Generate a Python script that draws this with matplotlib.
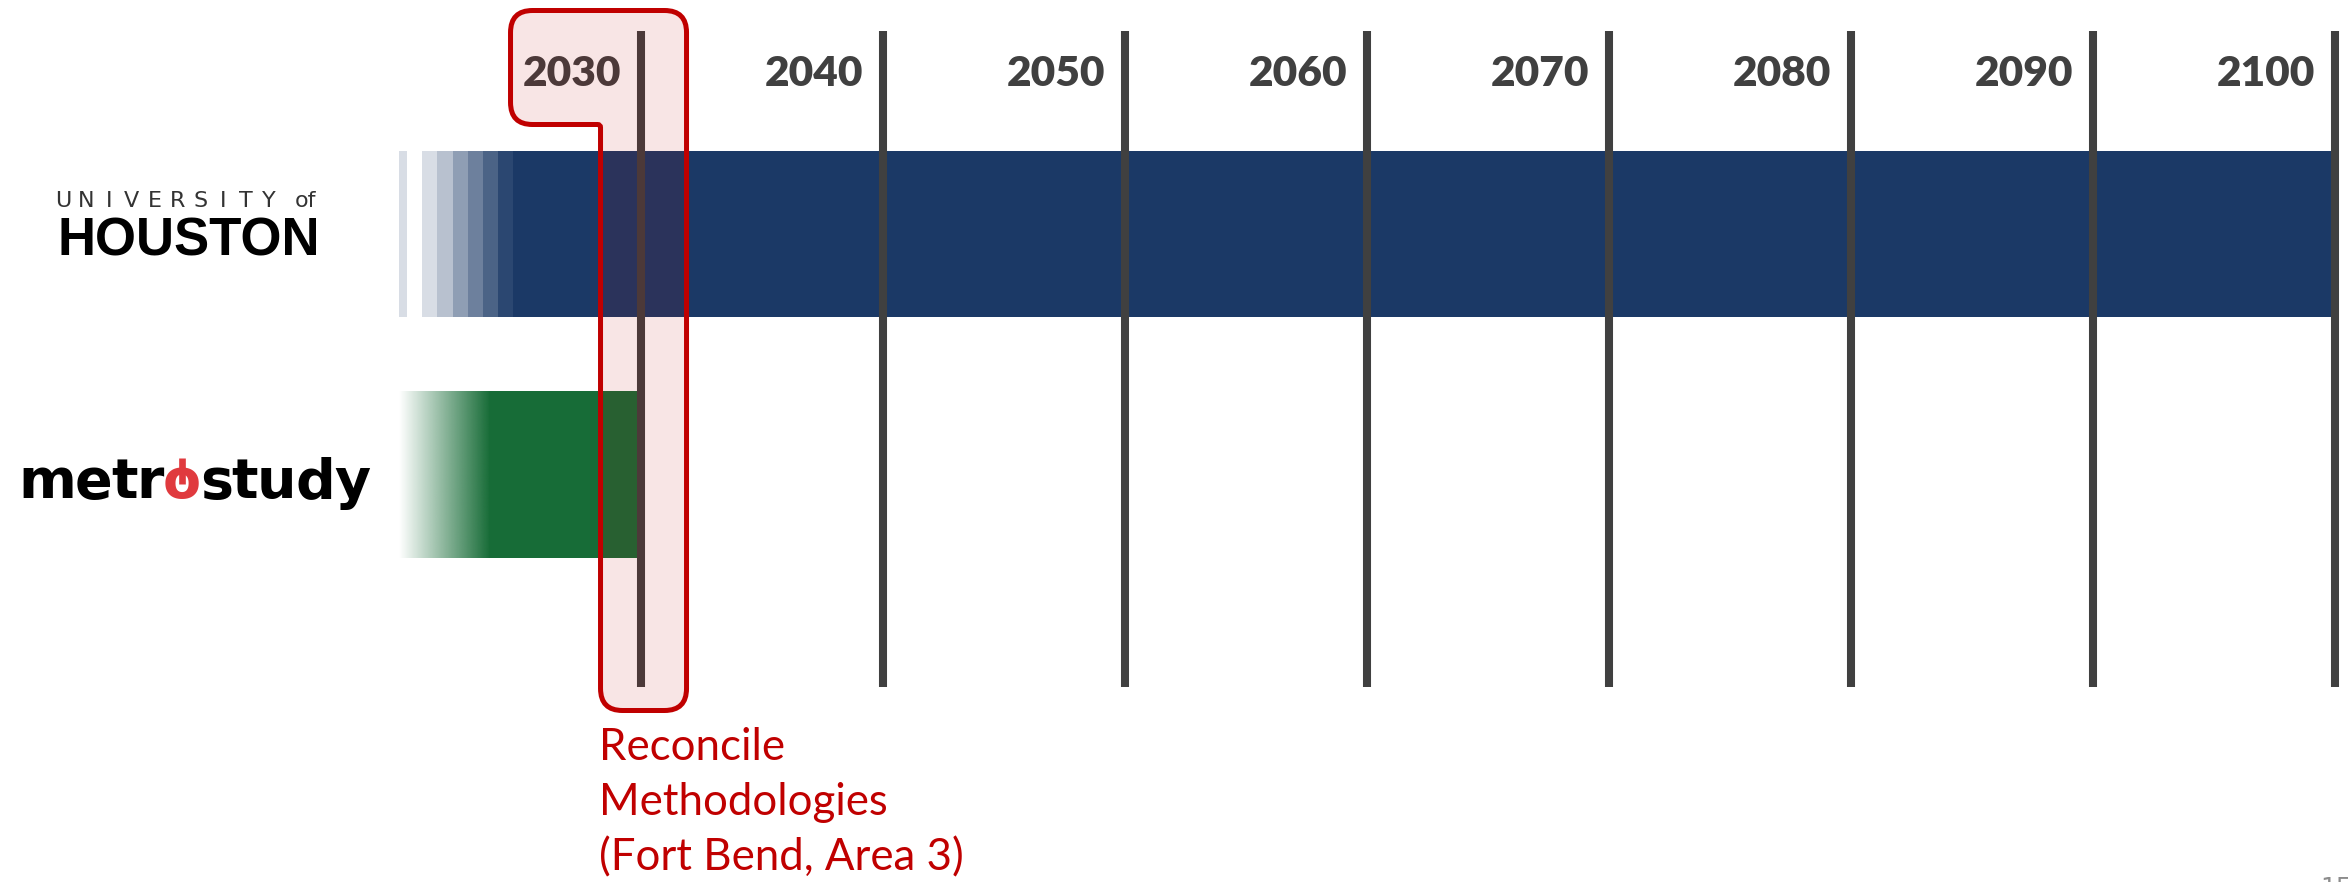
import numpy as np
import matplotlib
matplotlib.use("Agg")
import matplotlib.pyplot as plt
from matplotlib.path import Path
from matplotlib.patches import PathPatch
from matplotlib.lines import Line2D
from matplotlib.transforms import IdentityTransform, offset_copy
from matplotlib.colors import to_rgb

# timeline data
YEARS = [2030, 2040, 2050, 2060, 2070, 2080, 2090, 2100]
SOURCES = ["University of Houston", "metrostudy"]
BAR_START = [2020.0, 2020.0]       # where each horizon starts fading in
BAR_SOLID = [2024.71, 2023.7]      # where the bar becomes fully opaque
BAR_END = [2100, 2030]
UH_STRIP = [2020.0, 2020.33]
UH_STEPS = [2020.95, 2021.57, 2022.23, 2022.85, 2023.47, 2024.09, 2024.71]
RECONCILE_YEAR = 2030
RECONCILE_LINES = ["Reconcile", "Methodologies", "(Fort Bend, Area 3)"]

COLORS = {
    "navy": "#1b3966",
    "green": "#176c37",
    "grid": "#404040",
    "red": "#c00000",
    "logo_red": "#e03a3e",
}
STEP_ALPHAS = [0.17, 0.31, 0.49, 0.64, 0.79, 0.93]

W, H, DPI = 2348, 882, 100
fig = plt.figure(figsize=(W / DPI, H / DPI), dpi=DPI, facecolor="white")
ax = fig.add_axes([0, 0, 1, 1])
ax.set_axis_off()

bar_h = 0.692
rows = np.arange(len(SOURCES))

# University of Houston bar: solid part + stepped fade
ax.barh(rows[0], BAR_END[0] - BAR_SOLID[0], left=BAR_SOLID[0], height=bar_h,
        color=COLORS["navy"], linewidth=0, zorder=2)
for i, a in enumerate(STEP_ALPHAS):
    ax.barh(rows[0], UH_STEPS[i + 1] - UH_STEPS[i], left=UH_STEPS[i], height=bar_h,
            color=COLORS["navy"], alpha=a, linewidth=0, zorder=2)
ax.barh(rows[0], UH_STRIP[1] - UH_STRIP[0], left=UH_STRIP[0], height=bar_h,
        color=COLORS["navy"], alpha=STEP_ALPHAS[0], linewidth=0, zorder=2)

# metrostudy bar: smooth fade + solid part
ax.barh(rows[1], BAR_END[1] - BAR_SOLID[1], left=BAR_SOLID[1], height=bar_h,
        color=COLORS["green"], linewidth=0, zorder=2)
grad = np.zeros((1, 256, 4))
grad[..., :3] = to_rgb(COLORS["green"])
grad[..., 3] = np.linspace(0, 1, 256)
ax.imshow(grad, extent=[BAR_START[1], BAR_SOLID[1] + 0.05, rows[1] + bar_h / 2, rows[1] - bar_h / 2],
          aspect="auto", interpolation="bilinear", zorder=2)

# decade lines and labels
ax.vlines(YEARS, -0.844, 1.884, color=COLORS["grid"], linewidth=5.8, capstyle="butt", zorder=3)
lab_tr = offset_copy(ax.transData, fig=fig, x=-20, y=0, units="dots")
for y in YEARS:
    ax.text(y, -0.615, str(y), transform=lab_tr, ha="right", va="baseline",
            fontsize=30.5, fontweight="heavy", color=COLORS["grid"], family="Lato")

ax.set_xlim(2003.51, 2100.54)
ax.set_ylim(2.694, -0.973)

# callout around 2030
x0 = ax.transData.transform((RECONCILE_YEAR, 0))[0]
pts = [(x0 - 130.5, 10.5), (x0 + 45.5, 10.5), (x0 + 45.5, 710.5),
       (x0 - 40.5, 710.5), (x0 - 40.5, 124.5), (x0 - 130.5, 124.5)]
radii = [22, 22, 22, 22, 3, 22]


def rounded_path(points, radii):
    p = np.array([(x, H - y) for x, y in points], float)
    n = len(p)
    verts, codes = [], []
    for i in range(n):
        prev, cur, nxt = p[i - 1], p[i], p[(i + 1) % n]
        r = radii[i]
        a = cur + r * (prev - cur) / np.linalg.norm(prev - cur)
        b = cur + r * (nxt - cur) / np.linalg.norm(nxt - cur)
        verts += [a, cur, b]
        codes += [Path.LINETO, Path.CURVE3, Path.CURVE3]
    codes[0] = Path.MOVETO
    verts.append(verts[0])
    codes.append(Path.CLOSEPOLY)
    return Path(verts, codes)


callout = PathPatch(rounded_path(pts, radii), transform=IdentityTransform(),
                    facecolor=(0.75, 0, 0, 0.1), edgecolor=COLORS["red"], linewidth=3.6)
fig.add_artist(callout)

for i, line in enumerate(RECONCILE_LINES):
    tr = offset_copy(ax.transData, fig=fig, x=-42, y=-55 * i, units="dots")
    ax.text(RECONCILE_YEAR, 2.187, line, transform=tr, ha="left", va="baseline",
            fontsize=31.5, color=COLORS["red"], family="Lato")


def fx(x, y):
    return x / W, 1 - y / H


# University of Houston wordmark
for i, ch in enumerate("UNIVERSITY"):
    fig.text(*fx(63 + i * 22.9, 207), ch, ha="center", va="baseline",
             fontsize=16, color="#333333", family="DejaVu Sans")
fig.text(*fx(305, 207), "of", ha="center", va="baseline",
         fontsize=16, color="#333333", family="DejaVu Sans")
fig.text(*fx(58, 256), "HOUSTON", ha="left", va="baseline",
         fontsize=38, fontweight="bold", color="black", family="Liberation Sans")

# metrostudy wordmark, letters spread to the logo width
renderer = fig.canvas.get_renderer()
word = "metrostudy"
texts = [fig.text(0, 0, ch, ha="left", va="baseline", fontsize=40, fontweight="bold",
                  family="DejaVu Sans", color=COLORS["logo_red"] if ch == "o" else "black")
         for ch in word]
widths = [t.get_window_extent(renderer).width for t in texts]
track = (352 - sum(widths)) / (len(word) - 1)
x = 18
o_box = None
for ch, t, w in zip(word, texts, widths):
    t.set_position(fx(x, 498))
    if ch == "o":
        o_box = (x, w)
    x += w + track
cx = o_box[0] + o_box[1] / 2
ring_top = H - 466
fig.add_artist(Line2D([cx, cx], [ring_top + 4, ring_top - 10], transform=IdentityTransform(),
                      color="white", linewidth=10, solid_capstyle="butt"))
fig.add_artist(Line2D([cx, cx], [ring_top + 8, ring_top - 18], transform=IdentityTransform(),
                      color=COLORS["logo_red"], linewidth=4.8, solid_capstyle="butt"))

# slide number, cut off at the bottom edge
fig.text(*fx(2320, 876), "15", ha="left", va="top", fontsize=18, color="#8c8c8c")

fig.savefig("out.png", dpi=DPI, facecolor="white")
